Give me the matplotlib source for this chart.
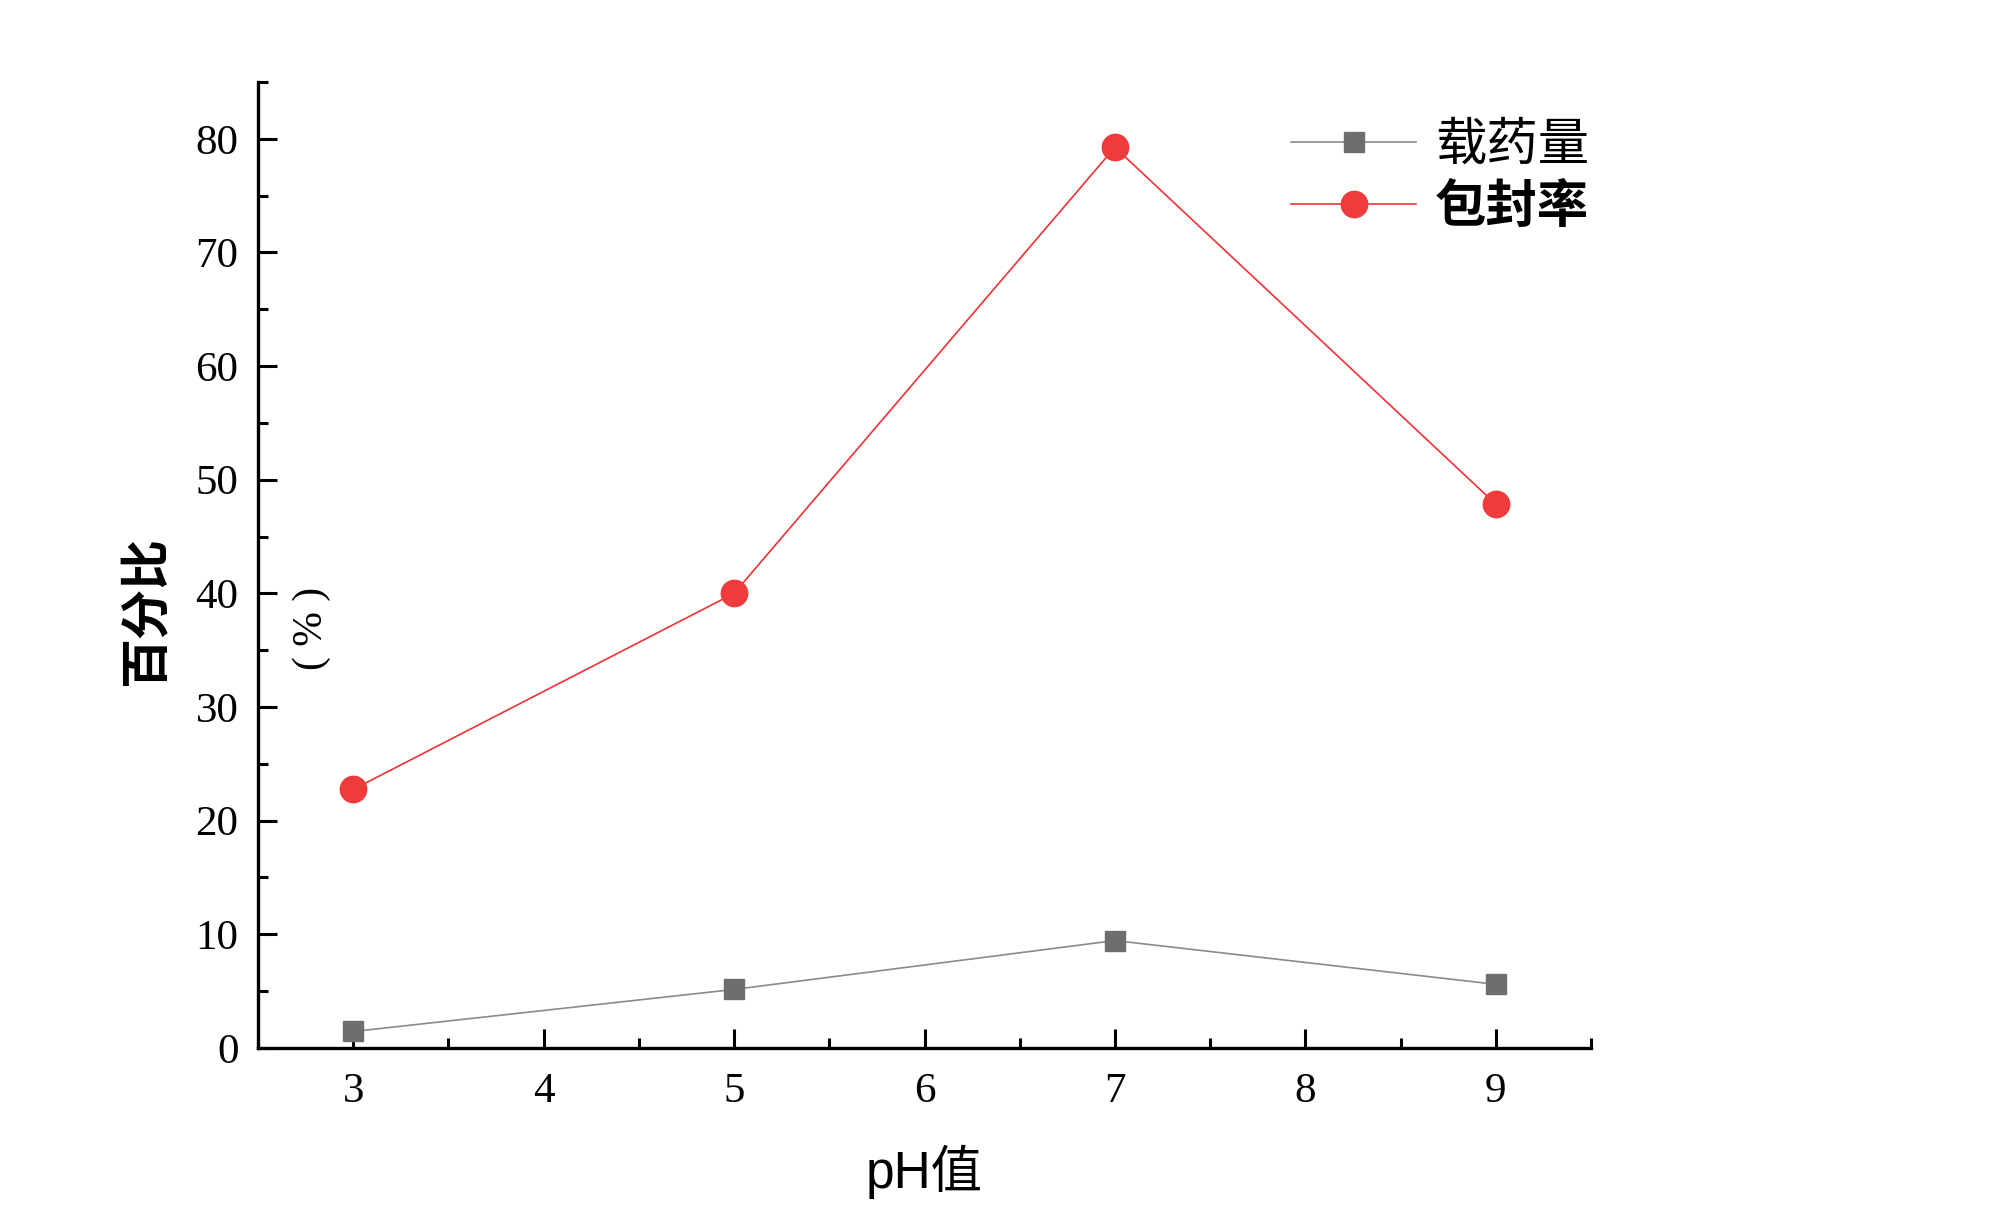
import matplotlib
matplotlib.use("Agg")
import matplotlib.pyplot as plt
from matplotlib.ticker import MultipleLocator

# pH values and the two series (percent)
ph = [3, 5, 7, 9]
loading = [1.45, 5.15, 9.45, 5.6]          # 载药量
encapsulation = [22.75, 40.0, 79.25, 47.85]  # 包封率

labels = ["载药量", "包封率"]

serif = ["Liberation Serif", "Noto Sans CJK SC"]
cjk = ["Noto Sans CJK SC", "DejaVu Sans"]
sans_cjk = ["Liberation Sans", "Noto Sans CJK SC"]

fig = plt.figure(figsize=(20, 12.29), dpi=100)
ax = fig.add_axes([0.129, 0.1473, 0.6665, 0.786])

ax.plot(ph, loading, color="#8a8a8a", lw=1.2, marker="s", markersize=15,
        markerfacecolor="#6e6e6e", markeredgecolor="#6e6e6e", label=labels[0])
ax.plot(ph, encapsulation, color="#ee3333", lw=1.2, marker="o", markersize=19,
        markerfacecolor="#ef3b3b", markeredgecolor="#ef3b3b", label=labels[1])

ax.set_xlim(2.5, 9.5)
ax.set_ylim(0, 85)
ax.xaxis.set_major_locator(MultipleLocator(1))
ax.xaxis.set_minor_locator(MultipleLocator(0.5))
ax.yaxis.set_major_locator(MultipleLocator(10))
ax.yaxis.set_minor_locator(MultipleLocator(5))

for side in ("top", "right"):
    ax.spines[side].set_visible(False)
for side in ("left", "bottom"):
    ax.spines[side].set_linewidth(2.4)

ax.tick_params(which="major", direction="in", length=14, width=2.2)
ax.tick_params(which="minor", direction="in", length=7, width=2.2)
ax.tick_params(axis="x", which="major", pad=18)
ax.tick_params(axis="y", which="major", pad=14)
for lab in ax.get_xticklabels() + ax.get_yticklabels():
    lab.set_fontfamily(serif)
    lab.set_fontsize(31)

ax.set_xlabel("pH值", family=sans_cjk, fontsize=37, labelpad=24)

# y label split in two parts, as in the original figure
fig.text(0.0735, 0.503, "百分比", family=cjk, fontsize=36, fontweight="bold",
         rotation=90, ha="center", va="center")
fig.text(0.156, 0.489, "( % )", family=serif, fontsize=30,
         rotation=90, ha="center", va="center")

leg = ax.legend(loc="upper left", bbox_to_anchor=(0.775, 0.962), frameon=False,
                prop={"family": cjk, "size": 37}, handlelength=2.43,
                handletextpad=0.37, labelspacing=0.16, borderpad=0,
                borderaxespad=0)
leg.get_texts()[1].set_fontweight("bold")

fig.savefig("out.png", dpi=100, facecolor="white")
